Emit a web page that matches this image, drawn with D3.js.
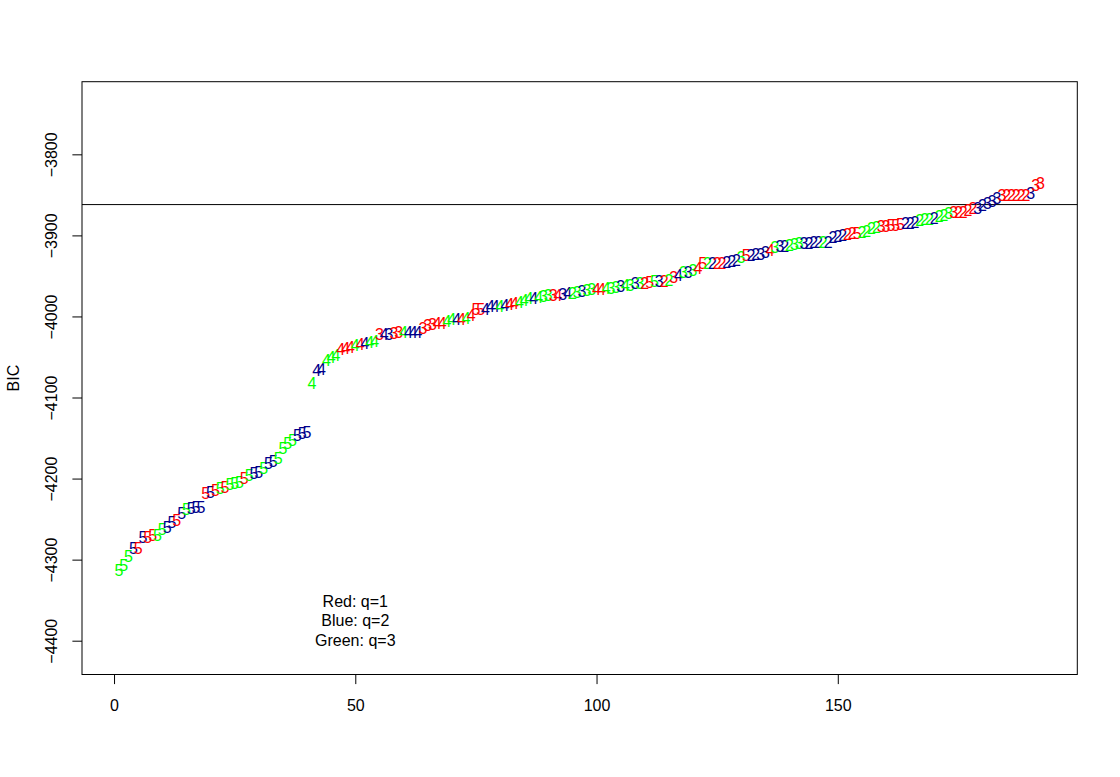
<!DOCTYPE html>
<html>
<head>
<meta charset="utf-8">
<script src="https://cdn.jsdelivr.net/npm/d3@7"></script>
<style>
html,body{margin:0;padding:0;background:#fff;}
svg{display:block;}
text{font-family:"Liberation Sans",Arial,Helvetica,sans-serif;}
</style>
</head>
<body>
<svg id="chart" width="1120" height="777"></svg>
<script>
// ---- data ----
const bic = [
-4313,-4307,-4296,-4286,-4286,-4273,-4272,-4270,-4270,-4262,
-4260,-4254,-4251,-4243,-4238,-4237,-4236,-4235,-4218,-4217,
-4215,-4212,-4211,-4207,-4206,-4204,-4200,-4196,-4193,-4192,
-4187,-4181,-4179,-4175,-4163,-4157,-4153,-4147,-4144,-4143,
-4082,-4066,-4065,-4054,-4050,-4048,-4041,-4039,-4038,-4035,
-4034,-4033,-4032,-4031,-4022,-4022,-4022,-4021,-4020,-4020,
-4020,-4020,-4020,-4014,-4011,-4010,-4008,-4008,-4006,-4004,
-4004,-4004,-4002,-3999,-3991,-3991,-3991,-3988,-3987,-3987,
-3986,-3985,-3984,-3982,-3980,-3978,-3977,-3976,-3975,-3974,
-3974,-3974,-3973,-3972,-3971,-3970,-3969,-3968,-3967,-3967,
-3967,-3965,-3965,-3964,-3963,-3962,-3961,-3959,-3959,-3959,
-3958,-3957,-3956,-3956,-3955,-3952,-3949,-3946,-3945,-3943,
-3941,-3935,-3935,-3935,-3934,-3934,-3933,-3932,-3931,-3927,
-3924,-3924,-3923,-3923,-3921,-3918,-3915,-3914,-3914,-3912,
-3911,-3910,-3910,-3910,-3909,-3909,-3909,-3908,-3902,-3901,
-3900,-3899,-3897,-3897,-3896,-3895,-3891,-3890,-3889,-3889,
-3887,-3887,-3886,-3885,-3885,-3884,-3881,-3880,-3880,-3879,
-3877,-3875,-3873,-3871,-3871,-3871,-3869,-3866,-3866,-3863,
-3860,-3858,-3854,-3851,-3851,-3851,-3850,-3850,-3850,-3848,
-3838,-3836
];
const nclass = [
5,5,5,5,5,5,5,5,5,5, 5,5,5,5,5,5,5,5,5,5,
5,5,5,5,5,5,5,5,5,5, 5,5,5,5,5,5,5,5,5,5,
4,4,4,4,4,4,4,4,4,4, 4,4,4,4,3,4,3,3,3,4,
4,4,4,3,3,3,4,4,4,4, 4,4,4,4,5,5,4,4,4,4,
4,4,4,4,4,4,4,4,3,3, 3,4,3,4,2,3,3,3,3,4,
4,4,3,3,3,4,3,3,3,2, 5,5,3,2,2,3,4,3,3,3,
4,5,2,2,2,2,2,2,2,3, 5,2,2,3,3,4,3,3,2,2,
3,3,3,2,2,2,2,2,2,2, 2,2,2,5,2,2,2,2,3,3,
5,5,5,2,2,2,2,2,2,2, 2,2,3,3,2,2,2,2,3,2,
3,3,3,3,2,2,2,2,2,3, 3,3
];
const qcode = [
"G","G","G","B","R","B","R","R","G","G", "B","B","R","B","G","B","B","B","R","B",
"R","G","R","G","G","G","R","G","B","B", "G","B","B","G","G","G","G","B","B","B",
"G","B","B","G","G","G","R","R","R","G", "R","B","G","G","R","B","B","R","R","G",
"B","B","B","R","R","R","R","R","G","G", "B","R","G","R","R","R","B","B","B","G",
"B","R","R","G","G","G","B","G","G","G", "R","R","B","B","G","G","B","G","G","R",
"R","G","G","G","B","G","G","B","G","R", "R","G","B","R","G","R","B","G","B","G",
"R","R","G","B","R","R","B","B","B","G", "R","B","B","B","B","R","G","B","B","G",
"G","G","B","B","B","B","G","B","B","B", "B","R","R","R","G","G","G","G","R","R",
"R","R","R","B","B","B","G","G","G","B", "G","G","G","R","R","R","R","R","B","B",
"B","B","B","R","R","R","R","R","R","B", "R","R"
];
const qColors = {R:"#FF0000", B:"#00008B", G:"#00FF00"};
const xTicks = [0, 50, 100, 150];
const yTicks = [-4400, -4300, -4200, -4100, -4000, -3900, -3800];
const refLine = -3862;
const legendLines = ["Red: q=1", "Blue: q=2", "Green: q=3"];
const legendAt = {x: 50, y: -4375};
const yLabel = "BIC";

// ---- layout ----
const L = 82, R = 1077.3, T = 81.7, B = 674.5;
const n = bic.length;
const x = d3.scaleLinear().domain([1 - 0.04*(n-1), n + 0.04*(n-1)]).range([L, R]);
const y = d3.scaleLinear().domain([-4441.7, -3710.4]).range([B, T]);
const FS = 16;
const minus = s => String(s).replace("-", "\u2212");

const svg = d3.select("#chart");
svg.append("rect").attr("width",1120).attr("height",777).attr("fill","#fff");

// horizontal reference line
svg.append("line")
  .attr("x1", L).attr("x2", R)
  .attr("y1", y(refLine)).attr("y2", y(refLine))
  .attr("stroke", "#000").attr("stroke-width", 1);

// points as text labels
const pts = bic.map((v,i)=>({i:i+1, v, lab:nclass[i], c:qColors[qcode[i]]}));
svg.append("g").selectAll("text").data(pts).enter().append("text")
  .attr("x", d => x(d.i))
  .attr("y", d => y(d.v) + 0.358*FS)
  .attr("text-anchor","middle")
  .attr("font-size", FS)
  .attr("fill", d => d.c)
  .text(d => d.lab);

// box
svg.append("rect")
  .attr("x", L).attr("y", T).attr("width", R-L).attr("height", B-T)
  .attr("fill","none").attr("stroke","#000").attr("stroke-width",1);

// x axis
const xAxis = d3.axisBottom(x).tickValues(xTicks).tickSize(9.6).tickPadding(0).tickFormat(d=>d);
const gx = svg.append("g").attr("transform", `translate(0,${B})`).call(xAxis);
gx.select(".domain").remove();
gx.selectAll(".tick line").attr("stroke","#000");
gx.selectAll(".tick text")
  .attr("y", 705 - B + 0.358*FS).attr("dy", null)
  .attr("font-size", FS).attr("fill","#000")
  .attr("font-family", '"Liberation Sans",Arial,sans-serif');

// y axis
const yAxis = d3.axisLeft(y).tickValues(yTicks).tickSize(9.6).tickFormat(d=>minus(d));
const gy = svg.append("g").attr("transform", `translate(${L},0)`).call(yAxis);
gy.select(".domain").remove();
gy.selectAll(".tick line").attr("stroke","#000");
gy.selectAll(".tick text")
  .attr("x", null).attr("dy", null)
  .attr("text-anchor","middle")
  .attr("transform", `translate(${57.3 - L},0) rotate(-90)`)
  .attr("font-size", FS).attr("fill","#000")
  .attr("font-family", '"Liberation Sans",Arial,sans-serif');

// y label
svg.append("text")
  .attr("transform", `translate(19,${(T+B)/2}) rotate(-90)`)
  .attr("text-anchor","middle")
  .attr("font-size", FS)
  .attr("fill","#000")
  .text(yLabel);

// legend text
const lh = 19.5;
svg.append("g").selectAll("text").data(legendLines).enter().append("text")
  .attr("x", x(legendAt.x))
  .attr("y", (d,i) => y(legendAt.y) + (i-1)*lh + 0.358*FS)
  .attr("text-anchor","middle")
  .attr("font-size", FS)
  .attr("fill","#000")
  .text(d => d);
</script>
</body>
</html>
